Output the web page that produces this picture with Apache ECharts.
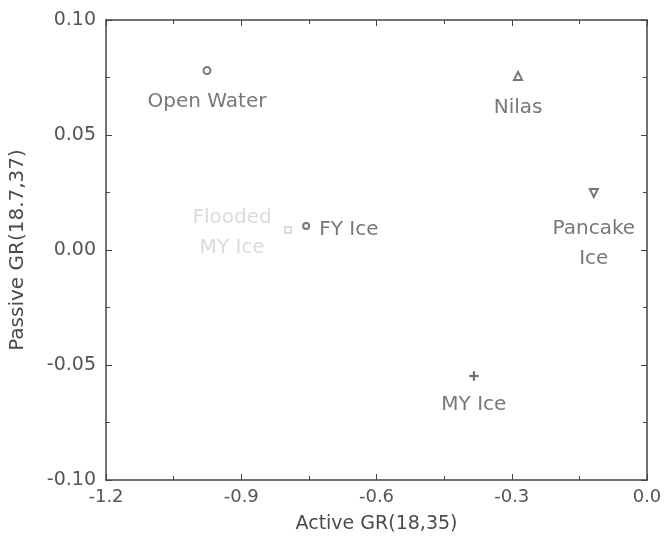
<!DOCTYPE html>
<html><head><meta charset="utf-8">
<script src="https://cdn.jsdelivr.net/npm/echarts@6/dist/echarts.min.js"></script>
<style>html,body{margin:0;padding:0;background:#fff}#c{width:665px;height:553px}</style>
</head><body><div id="c"></div>
<script>
const names = ["Open Water", "Nilas", "Pancake\nIce", "Flooded\nMY Ice", "FY Ice", "MY Ice"];
const activeGR = [-0.976, -0.286, -0.118, -0.796, -0.756, -0.384];
const passiveGR = [0.078, 0.0757, 0.0248, 0.0087, 0.0104, -0.0548];
const xTicks = [-1.2, -0.9, -0.6, -0.3, 0.0];
const yTicks = [-0.10, -0.05, 0.00, 0.05, 0.10];

const FONT = 'DejaVu Sans';
const sym = ['emptyCircle', 'emptyTriangle', 'emptyTriangle', 'emptyRect', 'emptyCircle',
  'path://M4.4,0H5.6V4.4H10V5.6H5.6V10H4.4V5.6H0V4.4H4.4Z'];
const rot = [0, 0, 180, 0, 0, 0];
const sizes = [7, 8, 8, 6, 6, 9];
const lab = [
  {position: 'bottom', distance: 17, color: '#555'},
  {position: 'bottom', distance: 17, color: '#555'},
  {position: 'bottom', distance: 16, color: '#555', lineHeight: 30},
  {position: 'inside', color: '#d2d2d2', lineHeight: 30, offset: [-56, 3]},
  {position: 'right', distance: 9, color: '#555', offset: [0, 4], align: 'left'},
  {position: 'bottom', distance: 14, color: '#555'}
];
const data = names.map((n, i) => ({
  name: n, value: [activeGR[i], passiveGR[i]], symbol: sym[i], symbolRotate: rot[i], symbolSize: sizes[i],
  itemStyle: {color: i === 3 ? '#d0d0d0' : '#555', borderColor: i === 3 ? '#d0d0d0' : '#555', borderWidth: 1},
  label: Object.assign({show: true, formatter: '{b}', fontSize: 20, fontFamily: FONT, align: 'center'}, lab[i])
}));

function ax(extra) {
  return Object.assign({
    type: 'value',
    axisLine: {show: true, onZero: false, lineStyle: {color: '#444', width: 1.5}},
    axisTick: {show: true, inside: true, length: 6, lineStyle: {color: '#444'}},
    minorTick: {show: true, splitNumber: 2, length: 4, lineStyle: {color: '#444'}},
    splitLine: {show: false}
  }, extra);
}
const chart = echarts.init(document.getElementById('c'));
chart.setOption({
  animation: false,
  grid: {left: 106, right: 18, top: 20, bottom: 73, containLabel: false, outerBoundsMode: 'none'},
  xAxis: [
    ax({min: xTicks[0], max: xTicks[xTicks.length - 1], interval: 0.3, position: 'bottom',
      name: 'Active GR(18,35)', nameLocation: 'middle', nameGap: 35,
      nameTextStyle: {fontSize: 19, color: '#4a4a4a', fontFamily: FONT},
      axisLabel: {fontSize: 18, color: '#555', margin: 8, fontFamily: FONT, formatter: v => v.toFixed(1)}}),
    ax({min: xTicks[0], max: xTicks[xTicks.length - 1], interval: 0.3, position: 'top', axisLabel: {show: false}})
  ],
  yAxis: [
    ax({min: yTicks[0], max: yTicks[yTicks.length - 1], interval: 0.05, position: 'left',
      name: 'Passive GR(18.7,37)', nameLocation: 'middle', nameGap: 78, nameRotate: 90,
      nameTextStyle: {fontSize: 20, color: '#4a4a4a', fontFamily: FONT},
      axisLabel: {fontSize: 19, color: '#555', margin: 10, fontFamily: FONT, formatter: v => v.toFixed(2)}}),
    ax({min: yTicks[0], max: yTicks[yTicks.length - 1], interval: 0.05, position: 'right', axisLabel: {show: false}})
  ],
  series: [{type: 'scatter', data: data}]
});
</script></body></html>
